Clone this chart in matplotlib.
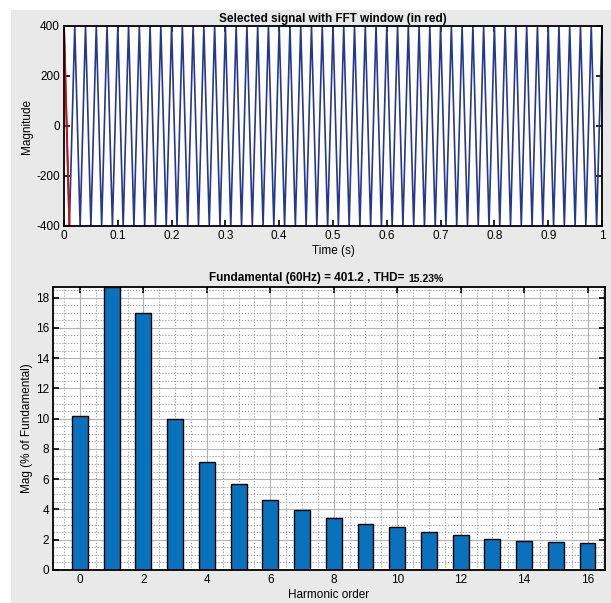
import numpy as np
import matplotlib.pyplot as plt
from matplotlib.patches import Rectangle
from matplotlib.ticker import MultipleLocator

plt.rcParams['font.family'] = ['Liberation Sans', 'DejaVu Sans']
plt.rcParams['axes.unicode_minus'] = False

# --- signal (as seen in the window) ---
cycle_values = [400, 0, -400, 0]     # one period, quarter-period samples
n_cycles = 50
period_s = 0.02
fft_window_end = 0.01

# --- harmonic spectrum ---
harmonic_order = list(range(17))
mag_pct = [10.15, 18.7, 17.0, 10.0, 7.13, 5.68, 4.65, 3.99, 3.44,
           3.03, 2.81, 2.54, 2.30, 2.06, 1.91, 1.82, 1.78]
fundamental_txt = 'Fundamental (60Hz) = 401.2 , THD= '
thd_txt = '15.23%'

signal = np.append(np.tile(cycle_values, n_cycles), cycle_values[0])
time = np.arange(len(signal)) * period_s / len(cycle_values)
in_window = time <= fft_window_end

fig = plt.figure(figsize=(6.11, 6.03), dpi=100)
fig.patch.set_facecolor('white')
fig.patches.append(Rectangle((11 / 611, 0), 1, 1 - 10 / 603, transform=fig.transFigure,
                             facecolor='#e9e9e9', edgecolor='none', zorder=-10))

# --- top: signal ---
ax1 = fig.add_axes([64 / 611, 1 - 226 / 603, 538 / 611, 200 / 603])
ax1.plot(time, signal, color='#26378f', lw=1.2)
ax1.plot(time[in_window], signal[in_window], color='#d01010', lw=1.4)
ax1.set_xlim(0, 1)
ax1.set_ylim(-400, 400)
ax1.set_xticks(np.arange(0, 1.01, 0.1))
ax1.set_xticklabels(['0'] + ['%.1f' % v for v in np.arange(0.1, 0.95, 0.1)] + ['1'])
ax1.set_yticks([-400, -200, 0, 200, 400])
ax1.set_title('Selected signal with FFT window (in red)', fontsize=8.5, fontweight='bold', pad=3)
ax1.set_xlabel('Time (s)', fontsize=8.5, labelpad=2)
ax1.set_ylabel('Magnitude', fontsize=8.5, labelpad=2)

# --- bottom: spectrum ---
ax2 = fig.add_axes([53 / 611, 1 - 570 / 603, 552 / 611, 283 / 603])
ax2.bar(harmonic_order, mag_pct, width=0.5, color='#0a72bd', edgecolor='black', lw=1.0)
ax2.set_xlim(-0.85, 16.55)
ax2.set_ylim(0, max(mag_pct))
ax2.set_xticks(range(0, 17, 2))
ax2.set_yticks(range(0, 19, 2))
ax2.xaxis.set_minor_locator(MultipleLocator(0.5))
ax2.yaxis.set_minor_locator(MultipleLocator(0.5))
ax2.set_axisbelow(True)
ax2.grid(which='major', color='#b4b4b4', ls='-', lw=0.8)
ax2.grid(which='minor', color='#9a9a9a', ls=':', lw=0.8)
ax2.tick_params(which='minor', length=0)
ax2.set_xlabel('Harmonic order', fontsize=8.5, labelpad=2)
ax2.set_ylabel('Mag (% of Fundamental)', fontsize=8.5, labelpad=2)
t1 = ax2.text(0.643, 1.012, fundamental_txt, transform=ax2.transAxes, ha='right', va='bottom',
              fontsize=8.5, fontweight='bold')
ax2.annotate(thd_txt, xy=(1, 0), xycoords=t1, ha='left', va='bottom', fontsize=7.5, fontweight='bold')

for ax in (ax1, ax2):
    ax.set_facecolor('white')
    ax.tick_params(which='major', direction='in', top=True, right=True, length=4, width=1.2,
                   labelsize=8.5, pad=3)
    for s in ax.spines.values():
        s.set_linewidth(1.3)
        s.set_color('black')

fig.savefig('out.png', dpi=100)
